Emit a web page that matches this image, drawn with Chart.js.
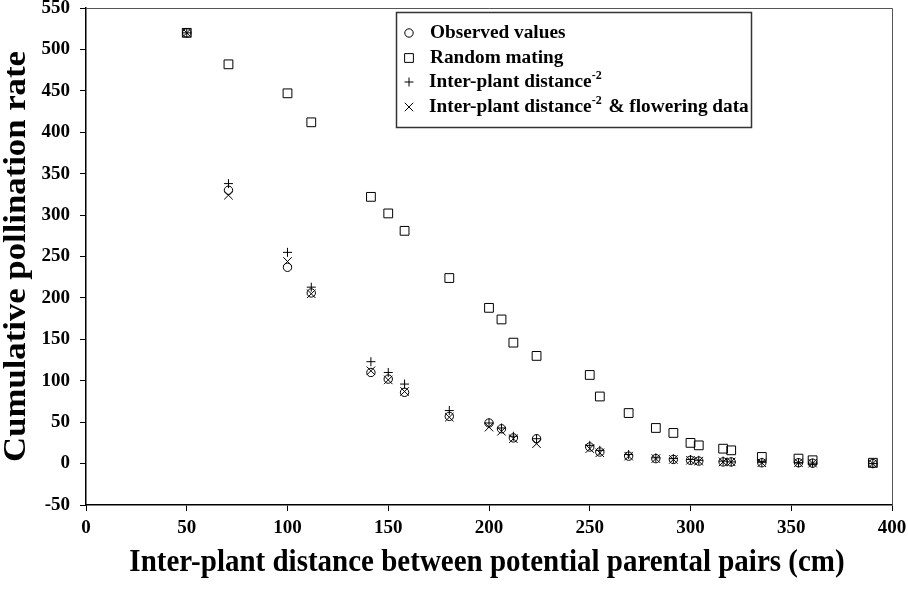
<!DOCTYPE html>
<html>
<head>
<meta charset="utf-8">
<script src="https://cdn.jsdelivr.net/npm/chart.js@4"></script>
<style>
  html, body { margin: 0; padding: 0; background: #fff; }
  #wrap { position: relative; width: 908px; height: 589px; }
</style>
</head>
<body>
<div id="wrap"><canvas id="c" width="908" height="589"></canvas></div>
<script>
// ---- data ----
const distances = [50, 70.7, 100, 111.8, 141.4, 150, 158.1, 180.3, 200, 206.2, 212.1, 223.6, 250, 255, 269.3, 282.8, 291.5, 300, 304.1, 316.2, 320.2, 335.4, 353.6, 360.6, 390.5];
const observedValues = [520, 330, 237, 206, 110, 102, 86, 57, 49, 42, 31, 30, 20, 14, 9, 6, 5, 4, 3, 2, 2, 1, 1, 0.5, 0];
const randomMating = [520, 482, 447, 412, 322, 302, 281, 224, 188, 174, 146, 130, 107, 81, 61, 43, 37, 25, 22, 18, 16, 8, 6, 4, 1];
const distanceModel = [520, 338, 255, 213, 123, 110, 96, 64, 49, 43, 33, 30, 22, 16, 11, 7, 6, 5, 4, 3, 2, 1.5, 1, 0.5, 0];
const distanceFloweringModel = [520, 324, 244, 205, 112, 101, 87, 56, 44, 39, 30, 24, 18, 13, 9, 6, 5, 4, 3, 2, 2, 1, 1, 0.5, 0];
const seriesLabels = ["Observed values", "Random mating", "Inter-plant distance^{-2}", "Inter-plant distance^{-2} & flowering data"];
const xTitle = "Inter-plant distance between potential parental pairs (cm)";
const yTitle = "Cumulative pollination rate";

const FONT = "'Liberation Serif', 'Times New Roman', serif";
const pts = (ys) => distances.map((x, i) => ({ x: x, y: ys[i] }));

const styles = [
  { pointStyle: 'circle', radius: 4.2 },
  { pointStyle: 'rect', radius: 6.2 },
  { pointStyle: 'cross', radius: 4.5 },
  { pointStyle: 'crossRot', radius: 6 }
];
const seriesValues = [observedValues, randomMating, distanceModel, distanceFloweringModel];

const datasets = seriesValues.map((vals, i) => ({
  label: seriesLabels[i],
  data: pts(vals),
  showLine: false,
  pointStyle: styles[i].pointStyle,
  pointRadius: styles[i].radius,
  pointHoverRadius: styles[i].radius,
  borderColor: '#000',
  backgroundColor: 'rgba(0,0,0,0)',
  pointBorderWidth: 1
}));

// frame (top/right), axis titles and legend drawn on the canvas
const decorPlugin = {
  id: 'decor',
  afterDraw(chart) {
    const { ctx, chartArea: a } = chart;
    ctx.save();
    ctx.strokeStyle = '#555';
    ctx.lineWidth = 1;
    ctx.beginPath();
    ctx.moveTo(a.left, a.top + 0.5);
    ctx.lineTo(a.right + 0.5, a.top + 0.5);
    ctx.lineTo(a.right + 0.5, a.bottom);
    ctx.stroke();

    // axis titles
    ctx.fillStyle = '#000';
    ctx.textAlign = 'center';
    ctx.textBaseline = 'middle';
    ctx.save();
    ctx.translate((a.left + a.right) / 2 - 2, 563);
    ctx.scale(1, 1.1);
    ctx.font = `bold 29px ${FONT}`;
    ctx.fillText(xTitle, 0, 0);
    ctx.restore();

    ctx.save();
    ctx.translate(17, (a.top + a.bottom) / 2);
    ctx.rotate(-Math.PI / 2);
    ctx.scale(1.12, 1);
    ctx.font = `bold 31px ${FONT}`;
    ctx.fillText(yTitle, 0, 0);
    ctx.restore();

    // legend box
    const bx = 396.5, by = 12.5, bw = 355, bh = 115;
    ctx.fillStyle = '#fff';
    ctx.fillRect(bx, by, bw, bh);
    ctx.strokeStyle = '#333';
    ctx.lineWidth = 1.5;
    ctx.strokeRect(bx, by, bw, bh);

    const rowY = [33, 58, 82, 107];
    const symX = 409, textX = 430;
    const fs = 19.3, sup = 12;
    ctx.textAlign = 'left';
    seriesLabels.forEach((lab, i) => {
      const y = rowY[i];
      ctx.strokeStyle = '#000';
      ctx.fillStyle = 'rgba(0,0,0,0)';
      ctx.lineWidth = 1;
      Chart.helpers.drawPoint(ctx, { pointStyle: styles[i].pointStyle, radius: styles[i].radius, rotation: 0, borderWidth: 1 }, symX, y);
      ctx.fillStyle = '#000';
      ctx.textBaseline = 'alphabetic';
      let x = textX - (i >= 2 ? 1 : 0);
      const parts = lab.split(/(\^\{[^}]*\})/);
      parts.forEach(p => {
        if (!p) return;
        if (p.startsWith('^{')) {
          const t = p.slice(2, -1);
          ctx.font = `bold ${sup}px ${FONT}`;
          ctx.fillText(t, x, y + 5 - 8);
          x += ctx.measureText(t).width + 2;
        } else {
          ctx.font = `bold ${fs}px ${FONT}`;
          ctx.fillText(p, x, y + 5);
          x += ctx.measureText(p).width;
        }
      });
    });
    ctx.restore();
  }
};

function clearPad(scale) {
  scale.paddingTop = 0; scale.paddingBottom = 0;
  scale.paddingLeft = 0; scale.paddingRight = 0;
}

new Chart(document.getElementById('c'), {
  type: 'scatter',
  data: { datasets },
  options: {
    responsive: false,
    animation: false,
    devicePixelRatio: 1,
    layout: { padding: { top: 8, right: 16, left: 0, bottom: 0 } },
    plugins: { legend: { display: false }, tooltip: { enabled: false } },
    scales: {
      x: {
        type: 'linear', min: 0, max: 400,
        ticks: { stepSize: 50, color: '#000', font: { family: FONT, size: 19, weight: 'bold' }, padding: 6, maxRotation: 0 },
        grid: { drawOnChartArea: false, drawTicks: true, tickLength: 6, color: '#000', lineWidth: 1 },
        border: { color: '#000', width: 1.5 },
        title: { display: false },
        afterFit(scale) { scale.height = 84; clearPad(scale); }
      },
      y: {
        type: 'linear', min: -50, max: 550,
        ticks: { stepSize: 50, color: '#000', font: { family: FONT, size: 19, weight: 'bold' }, padding: 10 },
        grid: { drawOnChartArea: false, drawTicks: true, tickLength: 6, color: '#000', lineWidth: 1 },
        border: { color: '#000', width: 1.5 },
        title: { display: false },
        afterFit(scale) { scale.width = 86; clearPad(scale); }
      }
    }
  },
  plugins: [decorPlugin]
});
</script>
</body>
</html>
